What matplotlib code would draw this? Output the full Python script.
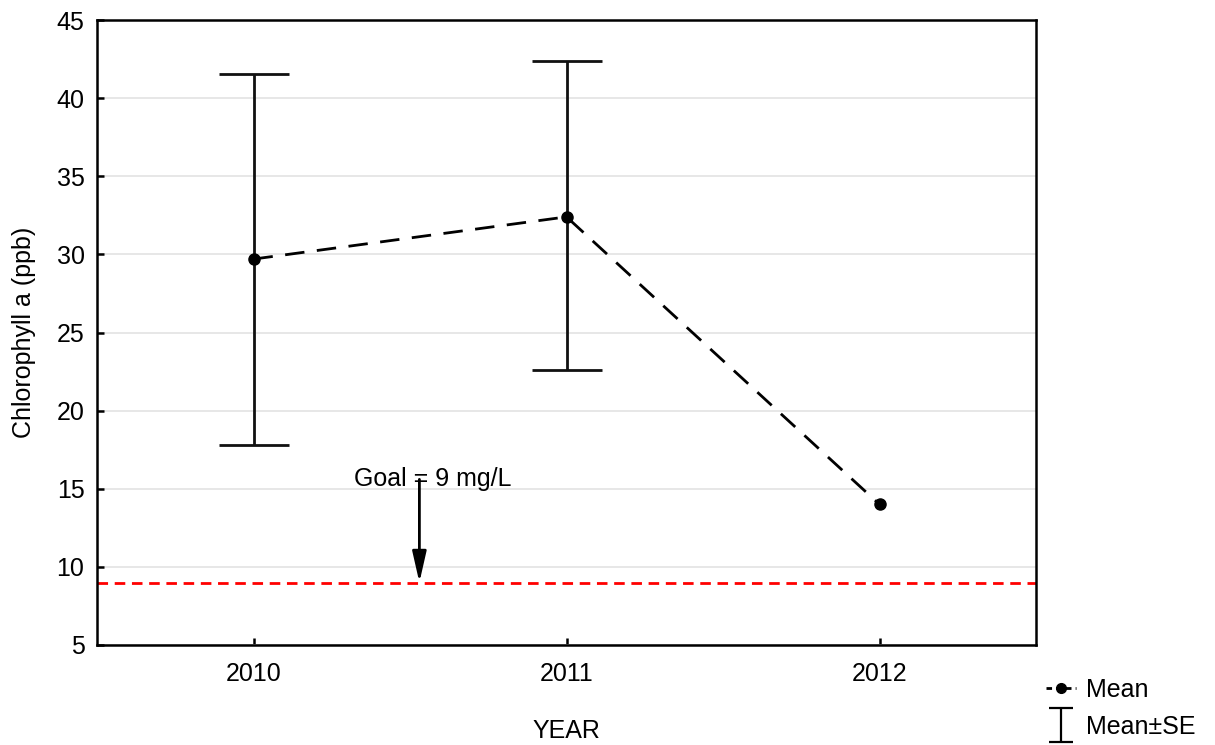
import matplotlib.pyplot as plt
from matplotlib.lines import Line2D
from matplotlib.path import Path

plt.rcParams['font.family'] = ['Liberation Sans', 'DejaVu Sans']

years = [2010, 2011, 2012]
mean = [29.7, 32.4, 14.0]
se_years = [2010, 2011]
se_mean = [29.7, 32.4]
se_low = [17.8, 22.6]
se_high = [41.55, 42.35]
goal = 9.0
goal_x = 2010.53
goal_text_y = 15.2

fig = plt.figure(figsize=(12.15, 7.45), dpi=100)
ax = fig.add_axes([97 / 1215, 1 - 645 / 745, (1036 - 97) / 1215, (645 - 20) / 745])

ax.set_xlim(2009.5, 2012.5)
ax.set_ylim(5, 45)
ax.set_yticks(range(5, 46, 5))
ax.set_xticks(years)
ax.yaxis.grid(True, color='#e3e3e3', linewidth=1.2)
ax.set_axisbelow(True)

ax.axhline(goal, color='#ff0000', linestyle=(0, (3.8, 2.4)), linewidth=2)

yerr = [[m - lo for m, lo in zip(se_mean, se_low)],
        [hi - m for m, hi in zip(se_mean, se_high)]]
ax.errorbar(se_years, se_mean, yerr=yerr, fmt='none', ecolor='#111111',
            elinewidth=2, capsize=25, capthick=2)

ax.plot(years, mean, color='black', linestyle=(0, (7, 4.5)), linewidth=2,
        marker='o', markersize=8)

ax.annotate('', xy=(goal_x, goal), xytext=(goal_x, goal_text_y + 0.4),
            arrowprops=dict(arrowstyle='-|>,head_width=0.17,head_length=0.75',
                            color='black', lw=2, mutation_scale=25,
                            shrinkA=0, shrinkB=0))
ax.text(2010.32, goal_text_y, 'Goal = 9 mg/L', fontsize=18, ha='left', va='baseline')

for s in ax.spines.values():
    s.set_linewidth(1.8)
    s.set_color('black')
ax.tick_params(direction='in', length=5, width=1.8, labelsize=18)
ax.tick_params(axis='y', pad=9)
ax.tick_params(axis='x', pad=12)

ax.set_xlabel('YEAR', fontsize=18, labelpad=24)
ax.set_ylabel('Chlorophyll a (ppb)', fontsize=18, labelpad=15)

# I-beam symbol for the Mean±SE legend entry
ibeam = Path([(-0.7, -1), (0.7, -1), (0, -1), (0, 1), (-0.7, 1), (0.7, 1)],
             [Path.MOVETO, Path.LINETO, Path.MOVETO, Path.LINETO,
              Path.MOVETO, Path.LINETO])
handles = [Line2D([], [], color='black', linestyle=(0, (2, 1.5)), linewidth=2,
                  marker='o', markersize=7),
           Line2D([], [], linestyle='none', marker=ibeam, markersize=24,
                  markerfacecolor='none', markeredgecolor='black',
                  markeredgewidth=1.6)]
fig.legend(handles, ['Mean', 'Mean±SE'], loc='upper left',
           bbox_to_anchor=(1046 / 1215, 1 - 678 / 745), frameon=False,
           fontsize=18, handlelength=1.2, handletextpad=0.4, labelspacing=0.5,
           borderpad=0, borderaxespad=0, numpoints=1)

fig.savefig('out.png', dpi=100)
